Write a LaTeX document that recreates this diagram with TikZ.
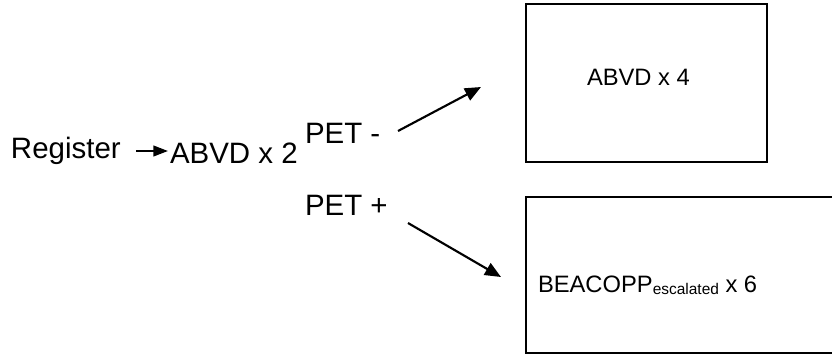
\documentclass[tikz,border=0pt]{standalone}
\usepackage{fontspec}
\setmainfont{Liberation Sans}
\usetikzlibrary{arrows.meta}
\begin{document}
\begin{tikzpicture}[x=0.75pt,y=-0.75pt,
  big/.style={inner sep=0pt,outer sep=0pt,font=\fontsize{22.1}{26}\selectfont},
  mid/.style={inner sep=0pt,outer sep=0pt,font=\fontsize{17.8}{21}\selectfont},
  box/.style={draw,line width=1.6pt,inner sep=0pt,outer sep=0pt,anchor=north west},
  arr/.style={line width=1.6pt,-{Triangle[length=12pt,width=10pt]}}]
\clip (0,0) rectangle (832,354);
\fill[white] (0,0) rectangle (832,354);
% boxes
\node[box,minimum width=180.75pt,minimum height=118.5pt] (box1) at (526,4) {};
\node[box,minimum width=240pt,minimum height=117pt] (box2) at (526,197) {};
% texts
\node[big,anchor=base west] (reg) at (11,158) {Register};
\node[big,anchor=base west] (abvd2) at (170,163) {ABVD x 2};
\node[big,anchor=base west] (petm) at (305,143) {PET -};
\node[big,anchor=base west] (petp) at (305,215) {PET +};
\node[mid,anchor=base west] (abvd4) at (587,85) {ABVD x 4};
\node[mid,anchor=base west] (beac) at (538,292) {BEACOPP\raisebox{-2pt}{\fontsize{11.6}{13}\selectfont escalated} x 6};
% connector ends
\coordinate (s1) at (398,131);
\coordinate (t1) at (481,87);
\coordinate (s2) at (408,223);
\coordinate (t2) at (501,277);
\coordinate (s0) at (136,151);
\coordinate (t0) at (168,151);
% arrows
\draw[line width=1.6pt,-{Triangle[length=11pt,width=8pt]}] (s0) -- (t0);
\draw[arr] (s1) -- (t1);
\draw[arr] (s2) -- (t2);
\end{tikzpicture}
\end{document}
